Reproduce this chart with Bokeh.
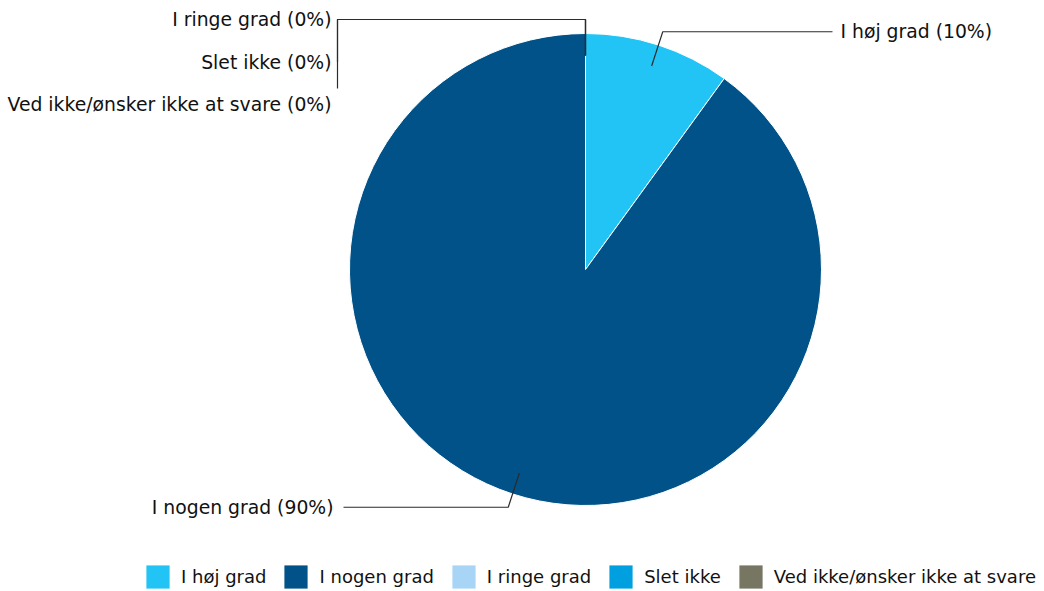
import math
from bokeh.plotting import figure
from bokeh.models import Range1d, Legend, LegendItem, ColumnDataSource
from bokeh.core.properties import value
from bokeh.embed import file_html
from bokeh.resources import INLINE

categories = ["I høj grad", "I nogen grad", "I ringe grad", "Slet ikke",
              "Ved ikke/ønsker ikke at svare"]
percentages = [10, 90, 0, 0, 0]
colors = ["#21C4F4", "#005288", "#A8D5F5", "#009FDF", "#777662"]

FONT = "DejaVu Sans"
W, H = 1044, 591
p = figure(width=W, height=H, output_backend="svg", toolbar_location=None,
           x_range=Range1d(0, W), y_range=Range1d(0, H),
           x_axis_type=None, y_axis_type=None, min_border=0,
           outline_line_color=None, background_fill_color="white",
           border_fill_color="white")
p.xgrid.visible = False
p.ygrid.visible = False

cx, cy, R = 585, H - 269, 236
total = sum(percentages)
starts, ends = [], []
cum = 0
for v in percentages:
    a0 = math.pi / 2 - 2 * math.pi * cum / total
    cum += v
    a1 = math.pi / 2 - 2 * math.pi * cum / total
    starts.append(a0)
    ends.append(a1)

nz = [i for i, v in enumerate(percentages) if v > 0]
src = ColumnDataSource(dict(
    x=[cx] * len(nz), y=[cy] * len(nz),
    start=[starts[i] for i in nz], end=[ends[i] for i in nz],
    color=[colors[i] for i in nz]))
p.wedge(x="x", y="y", radius=R, start_angle="start", end_angle="end",
        direction="clock", fill_color="color", line_color="white",
        line_width=1, source=src)

LINE = "#2b2b2b"
r_in, r_out = 214, 250
lx, ly, tx, ty, ta, tt = [], [], [], [], [], []
zero_idx = 0
for i, v in enumerate(percentages):
    mid = (starts[i] + ends[i]) / 2
    label = f"{categories[i]} ({v}%)"
    ax, ay = cx + r_in * math.cos(mid), cy + r_in * math.sin(mid)
    ex, ey = cx + r_out * math.cos(mid), cy + r_out * math.sin(mid)
    if v > 0:
        if math.cos(mid) >= 0:
            endx, textx, align = cx + R + 11, cx + R + 19, "left"
        else:
            endx, textx, align = cx - R - 6, cx - R - 16, "right"
        lx.append([ax, ex, endx])
        ly.append([ay, ey, ey])
        tx.append(textx); ty.append(ey); ta.append(align); tt.append(label)
    else:
        label_y = ey - 42.5 * zero_idx
        endx = cx - R - 12
        end_y = label_y if zero_idx < 2 else label_y + 16
        lx.append([ax, ex, endx, endx])
        ly.append([ay, ey, ey, end_y])
        tx.append(cx - R - 18); ty.append(label_y); ta.append("right"); tt.append(label)
        zero_idx += 1

p.multi_line(xs=lx, ys=ly, line_color=LINE, line_width=1.2)
p.text(x=tx, y=ty, text=tt, text_align=ta, text_baseline="middle",
       text_font=value(FONT), text_font_size="18.8px", text_color="#111111")

nan = float("nan")
items = []
for c, name in zip(colors, categories):
    r = p.quad(left=[nan], right=[nan], top=[nan], bottom=[nan],
               fill_color=c, line_color=None)
    items.append(LegendItem(label=name, renderers=[r]))
legend = Legend(items=items, orientation="horizontal", location=(143, 0),
                glyph_width=29, glyph_height=29, label_standoff=9, spacing=15,
                padding=0, margin=0, border_line_color=None,
                background_fill_alpha=0, label_text_font=FONT,
                label_text_font_size="18px", label_text_color="#111111")
p.add_layout(legend)

open("out.html", "w").write(file_html(p, INLINE))
